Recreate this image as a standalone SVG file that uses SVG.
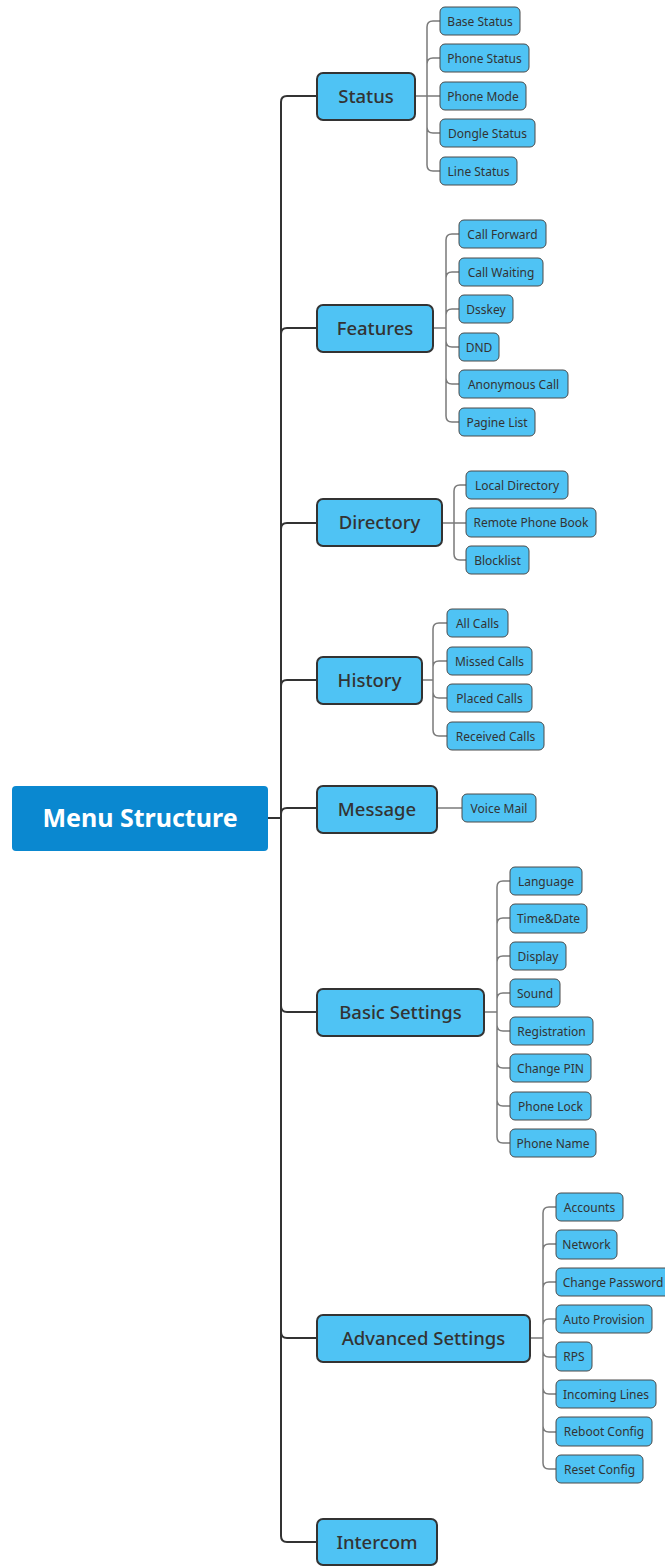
<svg xmlns="http://www.w3.org/2000/svg" width="665" height="1566" viewBox="0 0 665 1566">
<style>
.root rect{fill:#0a88d0;}
.root text{fill:#fff;font-family:"Noto Sans",sans-serif;font-size:25px;font-weight:700;text-anchor:middle;}
.l1 rect{fill:#4fc3f4;stroke:#333;stroke-width:2;}
.l1 text{fill:#333;font-family:"Noto Sans",sans-serif;font-size:18.5px;font-weight:500;text-anchor:middle;}
.leaf rect{fill:#4fc3f4;stroke:#4a4a4a;stroke-width:1;}
.leaf text{fill:#333;font-family:"Noto Sans",sans-serif;font-size:12px;text-anchor:middle;}
.trunk{fill:none;stroke:#333;stroke-width:2;}
.br{fill:none;stroke:#7a7a7a;stroke-width:1.5;}
</style>
<rect width="665" height="1566" fill="#fff"/>
<g id="connectors">
<path class="trunk" d="M268,818 H281"/>
<path class="trunk" d="M281,1536 V102 Q281,96 287,96 H317"/>
<path class="trunk" d="M281,334 Q281,328 287,328 H317"/>
<path class="trunk" d="M281,529 Q281,523 287,523 H317"/>
<path class="trunk" d="M281,686 Q281,680 287,680 H317"/>
<path class="trunk" d="M281,814 Q281,808 287,808 H317"/>
<path class="trunk" d="M281,1006 Q281,1012 287,1012 H317"/>
<path class="trunk" d="M281,1332 Q281,1338 287,1338 H317"/>
<path class="trunk" d="M281,1536 Q281,1542 287,1542 H317"/>
<!-- Status -->
<path class="br" d="M415,96 H440 M427,27 V165 M427,27 Q427,21 433,21 H440 M427,64 Q427,58 433,58 H440 M427,127 Q427,133 433,133 H440 M427,165 Q427,171 433,171 H440"/>
<!-- Features -->
<path class="br" d="M433,328 H446 M446,240 V416 M446,240 Q446,234 452,234 H459 M446,278 Q446,272 452,272 H459 M446,315 Q446,309 452,309 H459 M446,341 Q446,347 452,347 H459 M446,378 Q446,384 452,384 H459 M446,416 Q446,422 452,422 H459"/>
<!-- Directory -->
<path class="br" d="M442,523 H466 M454,491 V554 M454,491 Q454,485 460,485 H466 M454,554 Q454,560 460,560 H466"/>
<!-- History -->
<path class="br" d="M422,680 H433 M433,629 V730 M433,629 Q433,623 439,623 H447 M433,667 Q433,661 439,661 H447 M433,692 Q433,698 439,698 H447 M433,730 Q433,736 439,736 H447"/>
<!-- Message -->
<path class="br" d="M437,808 H462" stroke="#aaa"/>
<!-- Basic Settings -->
<path class="br" d="M484,1012 H497 M497,887 V1137 M497,887 Q497,881 503,881 H510 M497,924 Q497,918 503,918 H510 M497,962 Q497,956 503,956 H510 M497,999 Q497,993 503,993 H510 M497,1025 Q497,1031 503,1031 H510 M497,1062 Q497,1068 503,1068 H510 M497,1100 Q497,1106 503,1106 H510 M497,1137 Q497,1143 503,1143 H510"/>
<!-- Advanced Settings -->
<path class="br" d="M530,1338 H543 M543,1213 V1463 M543,1213 Q543,1207 549,1207 H556 M543,1250 Q543,1244 549,1244 H556 M543,1288 Q543,1282 549,1282 H556 M543,1325 Q543,1319 549,1319 H556 M543,1351 Q543,1357 549,1357 H556 M543,1388 Q543,1394 549,1394 H556 M543,1426 Q543,1432 549,1432 H556 M543,1463 Q543,1469 549,1469 H556"/>
</g>
<g id="root" class="root"><rect x="12" y="786" width="256" height="65" rx="4"/><text x="140" y="827">Menu Structure</text></g>

<g id="status" class="l1"><rect x="317" y="73" width="98" height="47" rx="6"/><text x="366" y="103">Status</text></g>
<g id="features" class="l1"><rect x="317" y="305" width="116" height="47" rx="6"/><text x="375" y="335">Features</text></g>
<g id="directory" class="l1"><rect x="317" y="499" width="125" height="47" rx="6"/><text x="379.5" y="529">Directory</text></g>
<g id="history" class="l1"><rect x="317" y="657" width="105" height="47" rx="6"/><text x="369.5" y="687">History</text></g>
<g id="message" class="l1"><rect x="317" y="786" width="120" height="47" rx="6"/><text x="377" y="816">Message</text></g>
<g id="basic" class="l1"><rect x="317" y="989" width="167" height="47" rx="6"/><text x="400.5" y="1019">Basic Settings</text></g>
<g id="advanced" class="l1"><rect x="317" y="1315" width="213" height="47" rx="6"/><text x="423.5" y="1345">Advanced Settings</text></g>
<g id="intercom" class="l1"><rect x="317" y="1519" width="120" height="46" rx="6"/><text x="377" y="1549">Intercom</text></g>

<g id="base-status" class="leaf"><rect x="440" y="7" width="80" height="28" rx="5"/><text x="480" y="25.5">Base Status</text></g>
<g id="phone-status" class="leaf"><rect x="440" y="44" width="89" height="28" rx="5"/><text x="484.5" y="62.5">Phone Status</text></g>
<g id="phone-mode" class="leaf"><rect x="440" y="82" width="86" height="28" rx="5"/><text x="483" y="100.5">Phone Mode</text></g>
<g id="dongle-status" class="leaf"><rect x="440" y="119" width="95" height="28" rx="5"/><text x="487.5" y="137.5">Dongle Status</text></g>
<g id="line-status" class="leaf"><rect x="440" y="157" width="77" height="28" rx="5"/><text x="478.5" y="175.5">Line Status</text></g>

<g id="call-forward" class="leaf"><rect x="459" y="220" width="87" height="28" rx="5"/><text x="502.5" y="238.5">Call Forward</text></g>
<g id="call-waiting" class="leaf"><rect x="459" y="258" width="84" height="28" rx="5"/><text x="501" y="276.5">Call Waiting</text></g>
<g id="dsskey" class="leaf"><rect x="459" y="295" width="54" height="28" rx="5"/><text x="486" y="313.5">Dsskey</text></g>
<g id="dnd" class="leaf"><rect x="459" y="333" width="40" height="28" rx="5"/><text x="479" y="351.5">DND</text></g>
<g id="anonymous-call" class="leaf"><rect x="459" y="370" width="109" height="28" rx="5"/><text x="513.5" y="388.5">Anonymous Call</text></g>
<g id="pagine-list" class="leaf"><rect x="459" y="408" width="76" height="28" rx="5"/><text x="497" y="426.5">Pagine List</text></g>

<g id="local-directory" class="leaf"><rect x="466" y="471" width="102" height="28" rx="5"/><text x="517" y="489.5">Local Directory</text></g>
<g id="remote-phone-book" class="leaf"><rect x="466" y="508" width="130" height="29" rx="5"/><text x="531" y="527">Remote Phone Book</text></g>
<g id="blocklist" class="leaf"><rect x="466" y="546" width="63" height="28" rx="5"/><text x="497.5" y="564.5">Blocklist</text></g>

<g id="all-calls" class="leaf"><rect x="447" y="609" width="61" height="28" rx="5"/><text x="477.5" y="627.5">All Calls</text></g>
<g id="missed-calls" class="leaf"><rect x="447" y="647" width="85" height="28" rx="5"/><text x="489.5" y="665.5">Missed Calls</text></g>
<g id="placed-calls" class="leaf"><rect x="447" y="684" width="85" height="28" rx="5"/><text x="489.5" y="702.5">Placed Calls</text></g>
<g id="received-calls" class="leaf"><rect x="447" y="722" width="97" height="28" rx="5"/><text x="495.5" y="740.5">Received Calls</text></g>

<g id="voice-mail" class="leaf"><rect x="462" y="794" width="74" height="28" rx="5"/><text x="499" y="812.5">Voice Mail</text></g>

<g id="language" class="leaf"><rect x="510" y="867" width="72" height="28" rx="5"/><text x="546" y="885.5">Language</text></g>
<g id="time-date" class="leaf"><rect x="510" y="904" width="77" height="29" rx="5"/><text x="548.5" y="923">Time&amp;Date</text></g>
<g id="display" class="leaf"><rect x="510" y="942" width="56" height="28" rx="5"/><text x="538" y="960.5">Display</text></g>
<g id="sound" class="leaf"><rect x="510" y="979" width="50" height="28" rx="5"/><text x="535" y="997.5">Sound</text></g>
<g id="registration" class="leaf"><rect x="510" y="1017" width="83" height="28" rx="5"/><text x="551.5" y="1035.5">Registration</text></g>
<g id="change-pin" class="leaf"><rect x="510" y="1054" width="81" height="28" rx="5"/><text x="550.5" y="1072.5">Change PIN</text></g>
<g id="phone-lock" class="leaf"><rect x="510" y="1092" width="81" height="28" rx="5"/><text x="550.5" y="1110.5">Phone Lock</text></g>
<g id="phone-name" class="leaf"><rect x="510" y="1129" width="86" height="28" rx="5"/><text x="553" y="1147.5">Phone Name</text></g>

<g id="accounts" class="leaf"><rect x="556" y="1193" width="67" height="28" rx="5"/><text x="589.5" y="1211.5">Accounts</text></g>
<g id="network" class="leaf"><rect x="556" y="1230" width="61" height="29" rx="5"/><text x="586.5" y="1249">Network</text></g>
<g id="change-password" class="leaf"><rect x="556" y="1268" width="114" height="28" rx="5"/><text x="613" y="1286.5">Change Password</text></g>
<g id="auto-provision" class="leaf"><rect x="556" y="1305" width="96" height="28" rx="5"/><text x="604" y="1323.5">Auto Provision</text></g>
<g id="rps" class="leaf"><rect x="556" y="1342" width="36" height="29" rx="5"/><text x="574" y="1361">RPS</text></g>
<g id="incoming-lines" class="leaf"><rect x="556" y="1380" width="100" height="28" rx="5"/><text x="606" y="1398.5">Incoming Lines</text></g>
<g id="reboot-config" class="leaf"><rect x="556" y="1417" width="96" height="29" rx="5"/><text x="604" y="1436">Reboot Config</text></g>
<g id="reset-config" class="leaf"><rect x="556" y="1455" width="87" height="28" rx="5"/><text x="599.5" y="1473.5">Reset Config</text></g>
</svg>
